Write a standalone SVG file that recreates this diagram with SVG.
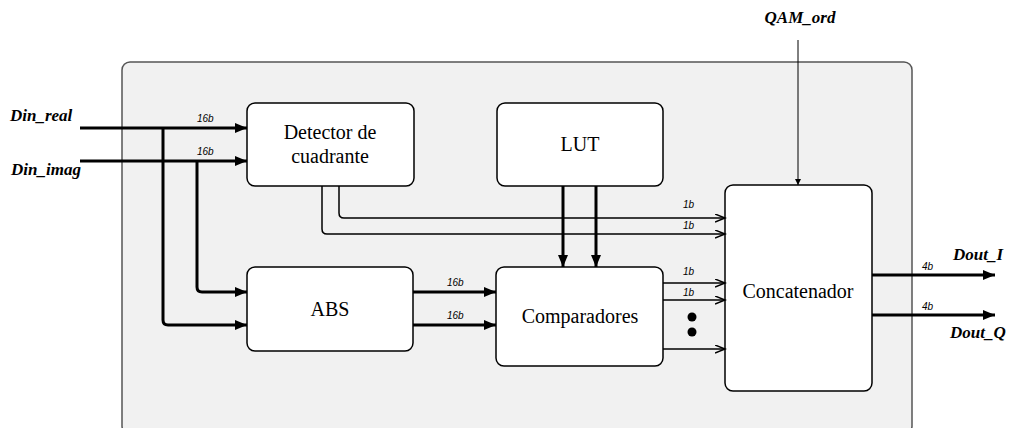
<svg xmlns="http://www.w3.org/2000/svg" width="1013" height="428" viewBox="0 0 1013 428">
<style>
.box{fill:#fff;stroke:#000;stroke-width:1.5}
.lbl{font-family:'Liberation Serif','Times New Roman',Tinos,'DejaVu Serif',serif;font-size:20px;fill:#000;text-anchor:middle}
.io{font-family:'Liberation Serif','Times New Roman',Tinos,'DejaVu Serif',serif;font-size:17px;font-weight:bold;font-style:italic;fill:#000}
.bw{font-family:'Liberation Sans',Arial,sans-serif;font-size:10px;font-style:italic;fill:#000}
.thick{fill:none;stroke:#000;stroke-width:3;marker-end:url(#fa)}
.thin{fill:none;stroke:#000;stroke-width:1.5;marker-end:url(#oa)}
</style>
<defs>
<marker id="fa" markerUnits="userSpaceOnUse" markerWidth="14" markerHeight="12" refX="12" refY="5" orient="auto">
<path d="M0,0 L12,5 L0,10 z" fill="#000"/>
</marker>
<marker id="oa" markerUnits="userSpaceOnUse" markerWidth="12" markerHeight="10" refX="10" refY="4" orient="auto">
<path d="M0,0 L10,4 L0,8" fill="none" stroke="#000" stroke-width="1.5"/>
</marker>
<marker id="sa" markerUnits="userSpaceOnUse" markerWidth="8" markerHeight="8" refX="6" refY="3" orient="auto">
<path d="M0,0 L6,3 L0,6 z" fill="#000"/>
</marker>
</defs>
<g id="container">
<rect x="122" y="62" width="790" height="372" rx="8" fill="#f1f1f1" stroke="#555" stroke-width="1.5"/>
</g>
<g id="detector">
<rect class="box" x="247" y="103" width="167" height="83" rx="8"/>
<text class="lbl" x="330" y="139">Detector de</text>
<text class="lbl" x="330" y="163">cuadrante</text>
</g>
<g id="lut">
<rect class="box" x="497" y="103" width="166" height="83" rx="8"/>
<text class="lbl" x="580" y="151">LUT</text>
</g>
<g id="abs">
<rect class="box" x="247" y="267" width="166" height="84" rx="8"/>
<text class="lbl" x="330" y="316">ABS</text>
</g>
<g id="comparadores">
<rect class="box" x="496" y="267" width="167" height="99" rx="8"/>
<text class="lbl" x="580" y="323">Comparadores</text>
</g>
<g id="concatenador">
<rect class="box" x="725" y="185" width="147" height="206" rx="8"/>
<text class="lbl" x="798" y="298">Concatenador</text>
</g>
<g id="connectors">
<path class="thick" d="M80,128 H247"/>
<path class="thick" d="M80,161 H247"/>
<path class="thick" d="M163,128 V320 Q163,325 168,325 H247"/>
<path class="thick" d="M197,161 V287 Q197,292 202,292 H247"/>
<path class="thin" d="M339,186 V213 Q339,218 344,218 H725"/>
<path class="thin" d="M322,186 V229 Q322,234 327,234 H725"/>
<path class="thick" d="M563,186 V267"/>
<path class="thick" d="M596,186 V267"/>
<path class="thick" d="M413,292 H496"/>
<path class="thick" d="M413,325 H496"/>
<path class="thin" d="M663,283 H725"/>
<path class="thin" d="M663,300 H725"/>
<path class="thin" d="M663,349 H725"/>
<circle cx="692" cy="317" r="4.5" fill="#000"/>
<circle cx="692" cy="332" r="4.5" fill="#000"/>
<path d="M798,40 V185" fill="none" stroke="#000" stroke-width="1" marker-end="url(#sa)"/>
<path class="thick" d="M872,275 H995"/>
<path class="thick" d="M872,315 H995"/>
</g>
<g id="labels">
<text class="io" x="10" y="121">Din_real</text>
<text class="io" x="11" y="175">Din_imag</text>
<text class="io" x="800" y="23" text-anchor="middle">QAM_ord</text>
<text class="io" x="953" y="260">Dout_I</text>
<text class="io" x="950" y="338">Dout_Q</text>
<text class="bw" x="197" y="122">16b</text>
<text class="bw" x="197" y="155">16b</text>
<text class="bw" x="447" y="286">16b</text>
<text class="bw" x="447" y="319">16b</text>
<text class="bw" x="683" y="208">1b</text>
<text class="bw" x="683" y="229">1b</text>
<text class="bw" x="683" y="275">1b</text>
<text class="bw" x="683" y="296">1b</text>
<text class="bw" x="922" y="270">4b</text>
<text class="bw" x="922" y="310">4b</text>
</g>
</svg>
